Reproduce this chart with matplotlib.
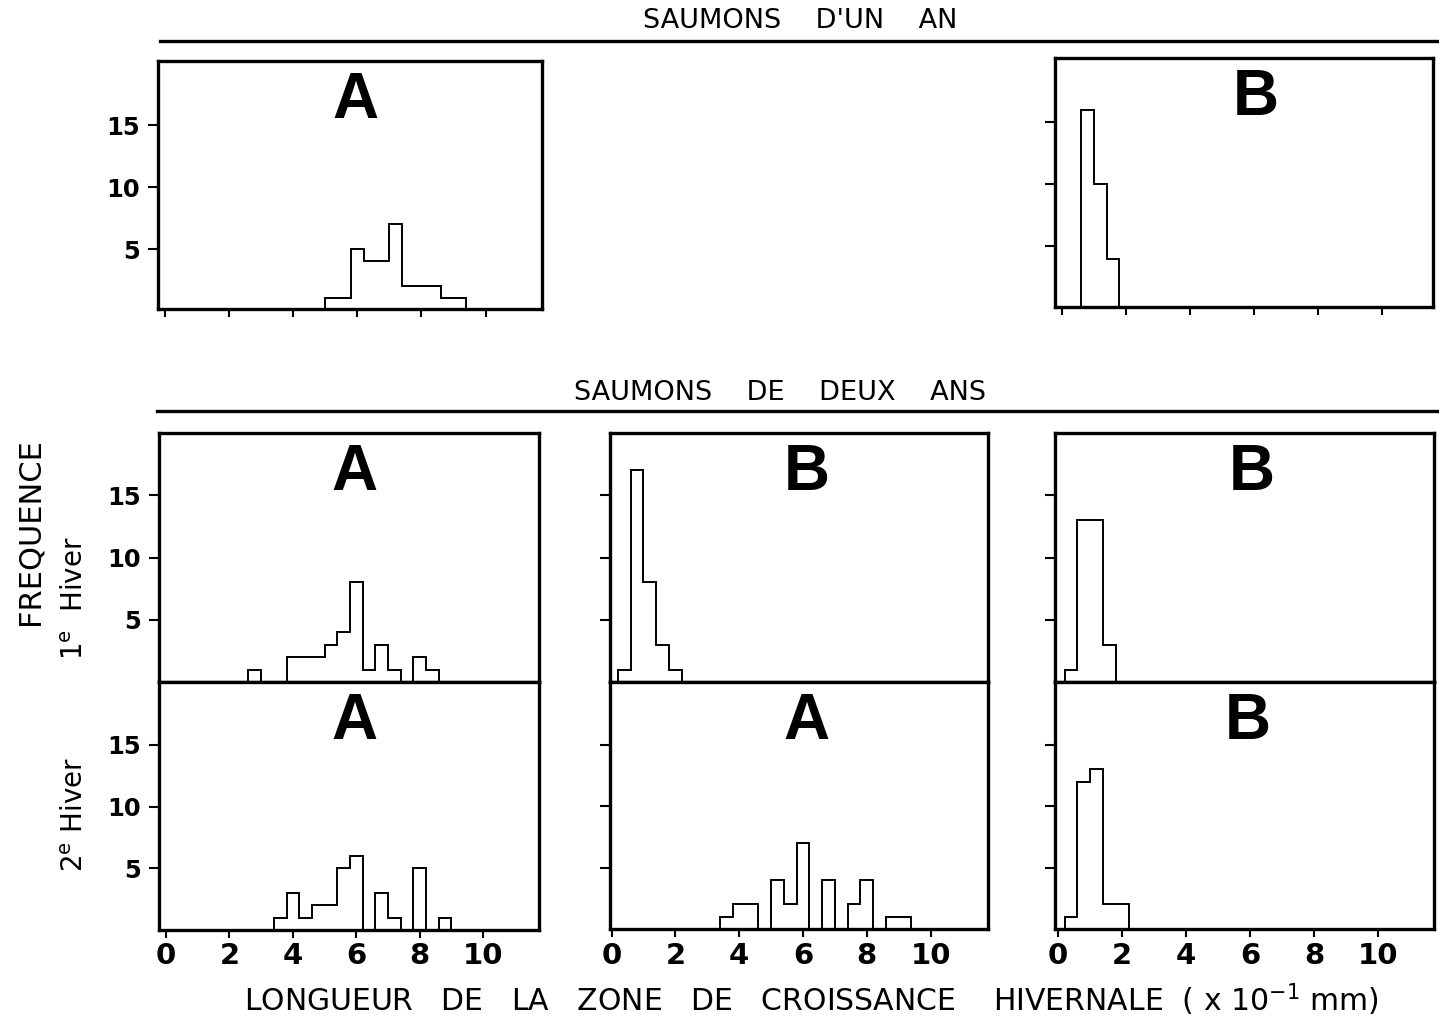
import numpy as np
import matplotlib
matplotlib.use("Agg")
import matplotlib.pyplot as plt

plt.rcParams['font.family'] = ['DejaVu Sans']
plt.rcParams['mathtext.fontset'] = 'dejavusans'

# ---------------- data (frequency counts per 0.4 bin) ----------------
bin_width = 0.4
# Saumons d'un an
tl_start, tl_counts = 5.0, [1, 1, 5, 4, 4, 7, 2, 2, 2, 1, 1]
tr_start, tr_counts = 0.6, [16, 10, 4]
# Saumons de deux ans, 1er hiver
m1_start, m1_counts = 2.6, [1, 0, 0, 2, 2, 2, 3, 4, 8, 1, 3, 1, 0, 2, 1]
m2_start, m2_counts = 0.2, [1, 17, 8, 3, 1]
m3_start, m3_counts = 0.2, [1, 13, 13, 3]
# Saumons de deux ans, 2e hiver
b1_start, b1_counts = 3.4, [1, 3, 1, 2, 2, 5, 6, 0, 3, 1, 0, 5, 0, 1]
b2_start, b2_counts = 3.4, [1, 2, 2, 0, 4, 2, 7, 0, 4, 0, 2, 4, 0, 1, 1]
b3_start, b3_counts = 0.2, [1, 12, 13, 2, 2]

panel_letters = {"tl": "A", "tr": "B", "m1": "A", "m2": "B", "m3": "B",
                 "b1": "A", "b2": "A", "b3": "B"}
yticks = [5, 10, 15]
xticks = [0, 2, 4, 6, 8, 10]

W, H = 1439, 1017
fig = plt.figure(figsize=(W / 100, H / 100), dpi=100)


def px_axes(x0, x1, y0, y1):
    return fig.add_axes([x0 / W, 1 - y1 / H, (x1 - x0) / W, (y1 - y0) / H])


def draw(ax, start, counts, letter, xlim, ylim, ylabels, xmode, lx=0.515):
    edges = start + bin_width * np.arange(len(counts) + 1)
    ax.stairs(counts, edges, baseline=0, fill=False, color='black', linewidth=1.4)
    ax.set_xlim(*xlim)
    ax.set_ylim(*ylim)
    for s in ax.spines.values():
        s.set_linewidth(2.4)
    ax.set_yticks(yticks)
    if ylabels:
        ax.set_yticklabels([str(t) for t in yticks], fontsize=17.5, fontweight='bold')
    else:
        ax.set_yticklabels([])
    ax.tick_params(axis='y', direction='out', length=7, width=1.5, pad=6)
    if xmode == 'none':
        ax.set_xticks([])
    else:
        ax.set_xticks(xticks)
        if xmode == 'labels':
            ax.set_xticklabels([str(t) for t in xticks], fontsize=21, fontweight='bold')
        else:
            ax.set_xticklabels([])
        ax.tick_params(axis='x', direction='out', length=6, width=1.5, pad=3)
    ax.text(lx, 0.84, letter, transform=ax.transAxes, ha='center', va='center',
            fontsize=46, fontweight='bold',
            family=['Liberation Sans Narrow', 'Liberation Sans', 'DejaVu Sans'])


ax = px_axes(158, 542, 61, 309)
draw(ax, tl_start, tl_counts, panel_letters["tl"], (-0.22, 11.76), (0.15, 20.2), True, 'ticks')
ax = px_axes(1055, 1433, 58, 307)
draw(ax, tr_start, tr_counts, panel_letters["tr"], (-0.21, 11.6), (0.1, 20.2), False, 'ticks', lx=0.53)

ax = px_axes(159, 539, 433, 682)
draw(ax, m1_start, m1_counts, panel_letters["m1"], (-0.22, 11.76), (0, 20.0), True, 'none')
ax = px_axes(610, 988, 433, 682)
draw(ax, m2_start, m2_counts, panel_letters["m2"], (-0.05, 11.8), (0, 20.0), False, 'none', lx=0.52)
ax = px_axes(1055, 1434, 433, 682)
draw(ax, m3_start, m3_counts, panel_letters["m3"], (-0.1, 11.74), (0, 20.0), False, 'none', lx=0.52)

ax = px_axes(159, 539, 682, 930)
draw(ax, b1_start, b1_counts, panel_letters["b1"], (-0.22, 11.76), (0, 20.1), True, 'labels')
ax = px_axes(610, 988, 682, 929)
draw(ax, b2_start, b2_counts, panel_letters["b2"], (-0.05, 11.8), (0, 20.1), False, 'labels', lx=0.52)
ax = px_axes(1055, 1434, 682, 929)
draw(ax, b3_start, b3_counts, panel_letters["b3"], (-0.1, 11.74), (0, 20.1), False, 'labels', lx=0.51)

# section headings and rules
fig.text(800 / W, 1 - 21 / H, "SAUMONS    D'UN    AN", ha='center', va='center', fontsize=19.5)
fig.add_artist(plt.Line2D([160 / W, 1437 / W], [1 - 41 / H, 1 - 41 / H], color='black', linewidth=2.4))
fig.text(780 / W, 1 - 393 / H, "SAUMONS    DE    DEUX    ANS", ha='center', va='center', fontsize=19.5)
fig.add_artist(plt.Line2D([157 / W, 1437 / W], [1 - 411 / H, 1 - 411 / H], color='black', linewidth=2.4))

# axis labels
fig.text(30 / W, 1 - 532 / H, "FREQUENCE", rotation=90, ha='center', va='center', fontsize=22)
fig.text(75 / W, 1 - 598 / H, r"1$^{\mathrm{e}}$  Hiver", rotation=90, ha='center', va='center', fontsize=20)
fig.text(75 / W, 1 - 815 / H, r"2$^{\mathrm{e}}$ Hiver", rotation=90, ha='center', va='center', fontsize=20)
fig.text(812 / W, 1 - 1000 / H,
         r"LONGUEUR   DE   LA   ZONE   DE   CROISSANCE    HIVERNALE  ( x 10$^{-1}$ mm)",
         ha='center', va='center', fontsize=21.5)

fig.savefig("out.png", dpi=100)
